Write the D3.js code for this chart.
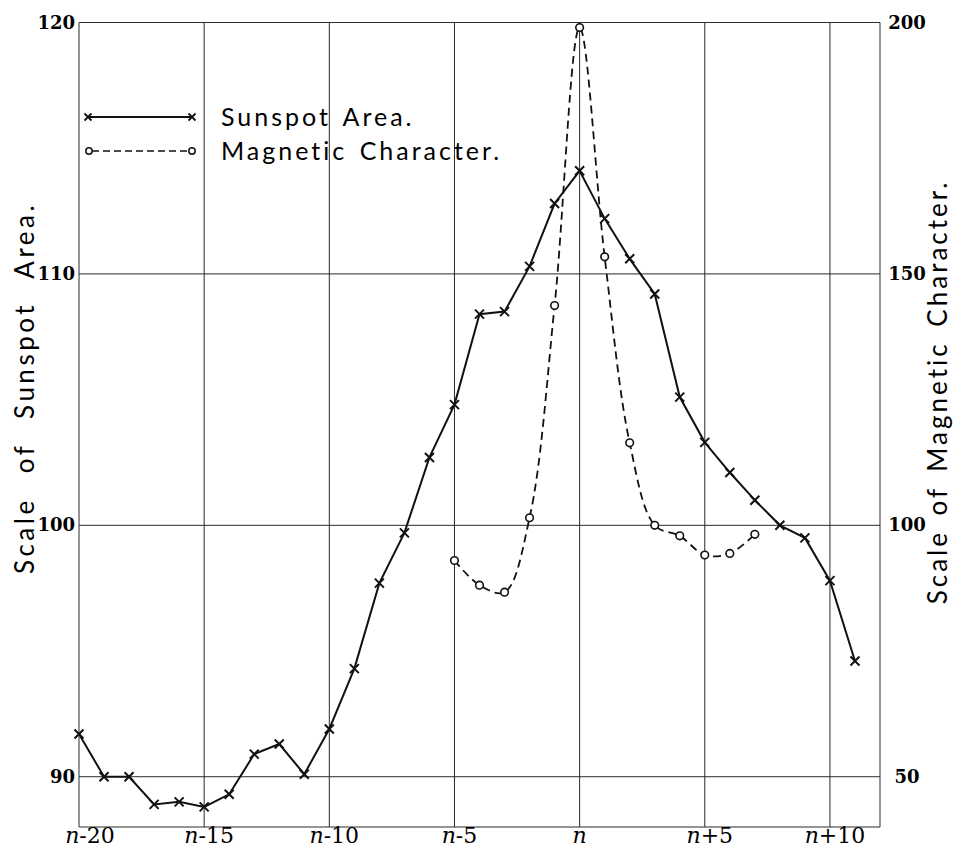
<!DOCTYPE html>
<html>
<head>
<meta charset="utf-8">
<script src="https://cdn.jsdelivr.net/npm/d3@7"></script>
<style>
  body { margin: 0; background: #fff; }
  svg { display: block; }
</style>
</head>
<body>
<div id="container"></div>
<script>
// ---- data ----
let sunspotLags = [-20, -19, -18, -17, -16, -15, -14, -13, -12, -11, -10, -9, -8, -7, -6, -5,
                   -4, -3, -2, -1, 0, 1, 2, 3, 4, 5, 6, 7, 8, 9, 10, 11];
let sunspotArea = [91.7, 90.0, 90.0, 88.9, 89.0, 88.8, 89.3, 90.9, 91.3, 90.1, 91.9, 94.3, 97.7, 99.7, 102.7, 104.8,
                   108.4, 108.5, 110.3, 112.8, 114.1, 112.2, 110.6, 109.2, 105.1, 103.3, 102.1, 101.0, 100.0, 99.5, 97.8, 94.6];

let magneticLags = [-5, -4, -3, -2, -1, 0, 1, 2, 3, 4, 5, 6, 7];
let magneticChar = [93.0, 88.1, 86.7, 101.5, 143.7, 199.0, 153.4, 116.4, 100.0, 97.9, 94.1, 94.4, 98.2];

let xTicks = [-20, -15, -10, -5, 0, 5, 10];
let leftTicks = [90, 100, 110, 120];
let rightTicks = [50, 100, 150, 200];

///////////////////////////

let w = 958;
let h = 849;
let plotLeft = 79, plotRight = 880, plotTop = 22.5, plotBottom = 827;

let handFont = "Lato, 'DejaVu Sans', sans-serif";
let numFont = "'DejaVu Serif', 'Liberation Serif', serif";

let viz = d3.select("#container").append("svg")
    .attr("width", w)
    .attr("height", h)
    .style("background-color", "white");

let xScale = d3.scaleLinear().domain([-20, 12]).range([plotLeft, plotRight]);
let yLeft = d3.scaleLinear().domain([88, 120]).range([plotBottom, plotTop]);
let yRight = d3.scaleLinear().domain([40, 200]).range([plotBottom, plotTop]);

// grid
let grid = viz.append("g").attr("stroke", "#2a2a2a").attr("stroke-width", 1);

grid.selectAll(".vline").data(xTicks.concat([12]))
  .enter().append("line")
    .attr("x1", d => xScale(d)).attr("x2", d => xScale(d))
    .attr("y1", plotTop).attr("y2", plotBottom);

grid.selectAll(".hline").data(leftTicks.concat([88]))
  .enter().append("line")
    .attr("x1", plotLeft).attr("x2", plotRight)
    .attr("y1", d => yLeft(d)).attr("y2", d => yLeft(d));

// left tick labels
viz.append("g").selectAll("text").data(leftTicks)
  .enter().append("text")
    .attr("x", plotLeft - 4)
    .attr("y", d => yLeft(d) + 6)
    .attr("text-anchor", "end")
    .attr("font-family", numFont)
    .attr("font-weight", "bold")
    .attr("font-size", 18)
    .text(d => d);

// right tick labels
viz.append("g").selectAll("text").data(rightTicks)
  .enter().append("text")
    .attr("x", 907)
    .attr("y", d => yRight(d) + 6)
    .attr("text-anchor", "middle")
    .attr("font-family", numFont)
    .attr("font-weight", "bold")
    .attr("font-size", 18)
    .text(d => d);

// x tick labels
let xl = viz.append("g").selectAll("text").data(xTicks)
  .enter().append("text")
    .attr("x", d => xScale(d) + (d === -20 ? 11 : d === 0 ? 0 : 5))
    .attr("y", 843)
    .attr("text-anchor", "middle")
    .attr("font-family", numFont)
    .attr("font-size", 22);
xl.append("tspan").attr("font-style", "italic").text("n");
xl.append("tspan").text(d => d === 0 ? "" : (d > 0 ? "+" + d : "-" + Math.abs(d)));

// axis titles
viz.append("text")
  .attr("transform", "translate(34,388) rotate(-90)")
  .attr("text-anchor", "middle")
  .attr("font-family", handFont)
  .attr("font-weight", 400)
  .attr("font-size", 26)
  .attr("fill", "#000")
  .attr("letter-spacing", 3.5)
  .attr("word-spacing", 14)
  .text("Scale of Sunspot Area.");

viz.append("text")
  .attr("transform", "translate(947,392) rotate(-90)")
  .attr("text-anchor", "middle")
  .attr("font-family", handFont)
  .attr("font-weight", 400)
  .attr("font-size", 26)
  .attr("fill", "#000")
  .attr("letter-spacing", 3)
  .attr("word-spacing", 5)
  .text("Scale of Magnetic Character.");

// sunspot line
let sunspotPoints = sunspotLags.map((d, i) => [d, sunspotArea[i]]);
let sunLine = d3.line()
  .x(d => xScale(d[0]))
  .y(d => yLeft(d[1]));

viz.append("path")
  .attr("d", sunLine(sunspotPoints))
  .attr("fill", "none")
  .attr("stroke", "#111")
  .attr("stroke-width", 2);

function crossPath(cx, cy, s) {
  return "M" + (cx - s) + "," + (cy - s) + "L" + (cx + s) + "," + (cy + s) +
         "M" + (cx - s) + "," + (cy + s) + "L" + (cx + s) + "," + (cy - s);
}

viz.append("g").selectAll("path").data(sunspotPoints)
  .enter().append("path")
    .attr("d", d => crossPath(xScale(d[0]), yLeft(d[1]), 4.5))
    .attr("stroke", "#111")
    .attr("stroke-width", 2);

// magnetic character line
let magPoints = magneticLags.map((d, i) => [d, magneticChar[i]]);
let magLine = d3.line()
  .x(d => xScale(d[0]))
  .y(d => yRight(d[1]))
  .curve(d3.curveCatmullRom.alpha(0.5));

viz.append("path")
  .attr("d", magLine(magPoints))
  .attr("fill", "none")
  .attr("stroke", "#111")
  .attr("stroke-width", 1.8)
  .attr("stroke-dasharray", "8,5");

viz.append("g").selectAll("circle").data(magPoints)
  .enter().append("circle")
    .attr("cx", d => xScale(d[0]))
    .attr("cy", d => yRight(d[1]))
    .attr("r", 3.8)
    .attr("fill", "white")
    .attr("stroke", "#111")
    .attr("stroke-width", 1.6);

// legend
let lg = viz.append("g");
lg.append("line").attr("x1", 88).attr("x2", 192).attr("y1", 117).attr("y2", 117)
  .attr("stroke", "#111").attr("stroke-width", 1.8);
lg.append("path").attr("d", crossPath(88, 117, 3.5) + crossPath(192, 117, 3.5))
  .attr("stroke", "#111").attr("stroke-width", 1.8);
lg.append("line").attr("x1", 92).attr("x2", 188).attr("y1", 151).attr("y2", 151)
  .attr("stroke", "#111").attr("stroke-width", 1.6).attr("stroke-dasharray", "7,4");
lg.append("circle").attr("cx", 89).attr("cy", 151).attr("r", 3.2)
  .attr("fill", "white").attr("stroke", "#111").attr("stroke-width", 1.5);
lg.append("circle").attr("cx", 192).attr("cy", 151).attr("r", 3.2)
  .attr("fill", "white").attr("stroke", "#111").attr("stroke-width", 1.5);

lg.append("text").attr("x", 221).attr("y", 126)
  .attr("font-family", handFont).attr("font-weight", 400).attr("font-size", 25)
  .attr("fill", "#000")
  .attr("letter-spacing", 3).attr("word-spacing", 3)
  .text("Sunspot Area.");
lg.append("text").attr("x", 221).attr("y", 160)
  .attr("font-family", handFont).attr("font-weight", 400).attr("font-size", 25)
  .attr("fill", "#000")
  .attr("letter-spacing", 3).attr("word-spacing", 3)
  .text("Magnetic Character.");
</script>
</body>
</html>
